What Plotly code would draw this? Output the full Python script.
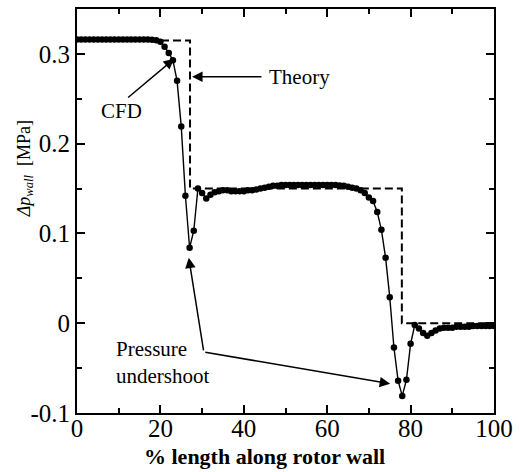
import plotly.graph_objects as go

# CFD data: % length along rotor wall vs pressure difference [MPa]
cfd_x = [0, 1, 2, 3, 4, 5, 6, 7, 8, 9, 10, 11, 12, 13, 14, 15, 16, 17, 18, 19,
         20, 21, 22, 23, 24, 25, 26, 27, 28, 29, 30, 31, 32, 33, 34, 35, 36, 37, 38, 39,
         40, 41, 42, 43, 44, 45, 46, 47, 48, 49, 50, 51, 52, 53, 54, 55, 56, 57, 58, 59,
         60, 61, 62, 63, 64, 65, 66, 67, 68, 69, 70, 71, 72, 73, 74, 75, 76, 77, 78, 79,
         80, 81, 82, 83, 84, 85, 86, 87, 88, 89, 90, 91, 92, 93, 94, 95, 96, 97, 98, 99, 100]
cfd_y = [0.316, 0.316, 0.316, 0.316, 0.316, 0.316, 0.316, 0.316, 0.316, 0.316,
         0.316, 0.316, 0.316, 0.316, 0.316, 0.316, 0.316, 0.316, 0.3157, 0.3152,
         0.3135, 0.308, 0.301, 0.293, 0.270, 0.219, 0.142, 0.084, 0.103, 0.150,
         0.145, 0.139, 0.143, 0.146, 0.147, 0.148, 0.148, 0.147, 0.147, 0.147,
         0.147, 0.148, 0.148, 0.149, 0.150, 0.151, 0.152, 0.153, 0.153, 0.154,
         0.154, 0.154, 0.154, 0.154, 0.154, 0.154, 0.154, 0.154, 0.154, 0.154,
         0.154, 0.154, 0.154, 0.1535, 0.153, 0.152, 0.151, 0.150, 0.148, 0.145,
         0.140, 0.136, 0.124, 0.104, 0.073, 0.029, -0.027, -0.064, -0.081, -0.063,
         -0.023, -0.002, -0.006, -0.011, -0.014, -0.011, -0.008, -0.006, -0.005, -0.005,
         -0.005, -0.004, -0.004, -0.004, -0.004, -0.003, -0.003, -0.003, -0.003, -0.003, -0.003]

# Theory (step profile)
theory_x = [0, 27.1, 27.1, 77.9, 77.9, 100]
theory_y = [0.315, 0.315, 0.150, 0.150, 0.0, 0.0]

x_tickvals = [0, 20, 40, 60, 80, 100]
x_ticktext = ["0", "20", "40", "60", "80", "100"]
y_tickvals = [-0.1, 0, 0.1, 0.2, 0.3]
y_ticktext = ["-0.1", "0", "0.1", "0.2", "0.3"]

FONT = "Liberation Serif"

fig = go.Figure()
fig.add_trace(go.Scatter(x=theory_x, y=theory_y, mode="lines",
                         line=dict(color="black", width=2, dash="8px,4px"),
                         showlegend=False))
fig.add_trace(go.Scatter(x=cfd_x, y=cfd_y, mode="lines+markers",
                         line=dict(color="black", width=1.4),
                         marker=dict(color="black", size=6.5),
                         showlegend=False))

axis_common = dict(showgrid=False, zeroline=False, showline=True, linecolor="black",
                   linewidth=2, mirror="ticks", ticks="inside", tickcolor="black",
                   tickwidth=1.5, ticklen=8,
                   tickfont=dict(family=FONT, size=25, color="black"))

fig.update_xaxes(range=[0, 100], tickvals=x_tickvals, ticktext=x_ticktext,
                 ticklabelstandoff=-8,
                 minor=dict(dtick=10, ticks="inside", ticklen=5, tickcolor="black", tickwidth=1.5),
                 **axis_common)
fig.update_yaxes(range=[-0.1, 0.35], tickvals=y_tickvals, ticktext=y_ticktext,
                 minor=dict(tickvals=[-0.05, 0.05, 0.15, 0.25], ticks="inside", ticklen=5,
                            tickcolor="black", tickwidth=1.5),
                 **axis_common)

ann_font = dict(family=FONT, size=21, color="black")
arrow_style = dict(showarrow=True, arrowhead=2, arrowsize=1.4, arrowwidth=1.5,
                   arrowcolor="black", xref="x", yref="y", axref="x", ayref="y", text="")

annotations = [
    # Theory
    dict(x=27.6, y=0.2746, ax=44.6, ay=0.2746, **arrow_style),
    dict(x=45.6, y=0.2746, text="Theory", showarrow=False, xanchor="left",
         yanchor="middle", font=ann_font, xref="x", yref="y"),
    # CFD
    dict(x=23.3, y=0.2945, ax=11.9, ay=0.250, **arrow_style),
    dict(x=10.7, y=0.236, text="CFD", showarrow=False, xanchor="center",
         yanchor="middle", font=ann_font, xref="x", yref="y"),
    # Pressure undershoot
    dict(x=26.8, y=0.073, ax=30.4, ay=-0.032, **arrow_style),
    dict(x=75.1, y=-0.0675, ax=30.4, ay=-0.032, **arrow_style),
    dict(x=8.9, y=-0.0432, text="Pressure<br>undershoot", showarrow=False,
         xanchor="left", yanchor="middle", align="left", font=ann_font,
         xref="x", yref="y"),
    # Axis titles
    dict(x=-0.1235, y=0.172, xref="paper", yref="y", textangle=-90,
         text="<i>Δp</i><sub><i>wall</i></sub>  [MPa]", showarrow=False,
         font=dict(family=FONT, size=18, color="black"),
         xanchor="center", yanchor="middle"),
    dict(x=0.450, y=-0.108, xref="paper", yref="paper",
         text="<b>% length along rotor wall</b>", showarrow=False,
         font=dict(family=FONT, size=22, color="black"),
         xanchor="center", yanchor="middle"),
]

fig.update_layout(width=520, height=472,
                  margin=dict(l=77, r=22, t=7, b=59),
                  plot_bgcolor="white", paper_bgcolor="white",
                  annotations=annotations, showlegend=False)

fig.write_html("out.html")
